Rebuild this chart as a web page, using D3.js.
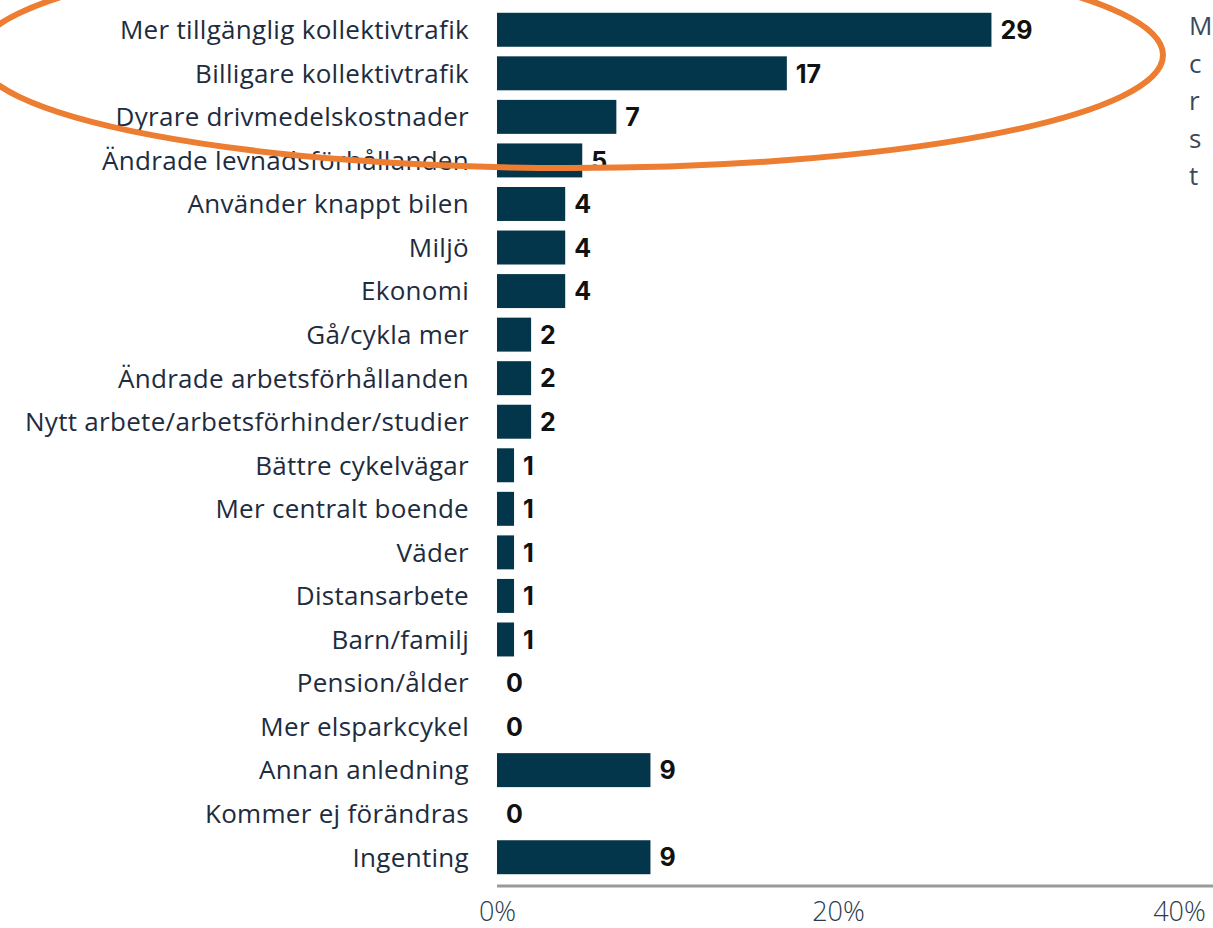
<!DOCTYPE html>
<html>
<head>
<meta charset="utf-8">
<script src="https://cdn.jsdelivr.net/npm/d3@7"></script>
<style>
  html, body { margin: 0; padding: 0; background: #ffffff; overflow: hidden; }
  svg { display: block; }
</style>
</head>
<body>
<svg id="chart" width="1213" height="928"></svg>
<script>
const categories = [
  "Mer tillgänglig kollektivtrafik",
  "Billigare kollektivtrafik",
  "Dyrare drivmedelskostnader",
  "Ändrade levnadsförhållanden",
  "Använder knappt bilen",
  "Miljö",
  "Ekonomi",
  "Gå/cykla mer",
  "Ändrade arbetsförhållanden",
  "Nytt arbete/arbetsförhinder/studier",
  "Bättre cykelvägar",
  "Mer centralt boende",
  "Väder",
  "Distansarbete",
  "Barn/familj",
  "Pension/ålder",
  "Mer elsparkcykel",
  "Annan anledning",
  "Kommer ej förändras",
  "Ingenting"
];
const values = [29, 17, 7, 5, 4, 4, 4, 2, 2, 2, 1, 1, 1, 1, 1, 0, 0, 9, 0, 9];
const tickValues = [0, 20, 40];
const tickLabels = ["0%", "20%", "40%"];
const sideTextLines = ["M", "c", "r", "s", "t"];

const svg = d3.select("#chart");
const W = 1213, H = 928;

const x = d3.scaleLinear().domain([0, 40]).range([497, 1179]);
const y = d3.scaleBand().domain(categories).range([8, 879]).paddingInner(0.22).paddingOuter(0.11);

const barColor = "#04364b";
const labelColor = "#1d2c3e";
const fontFam = "'Open Sans', 'Noto Sans', sans-serif";

// bars
svg.append("g").selectAll("rect").data(categories).join("rect")
  .attr("x", x(0))
  .attr("y", d => y(d))
  .attr("width", (d, i) => x(values[i]) - x(0))
  .attr("height", y.bandwidth())
  .attr("fill", barColor);

// category labels
svg.append("g").selectAll("text").data(categories).join("text")
  .attr("x", 469)
  .attr("y", d => y(d) + y.bandwidth() / 2)
  .attr("dy", "0.36em")
  .attr("text-anchor", "end")
  .attr("font-family", fontFam)
  .attr("font-size", 26)
  .attr("letter-spacing", "0.3")
  .attr("fill", labelColor)
  .text(d => d);

// value labels
svg.append("g").selectAll("text").data(categories).join("text")
  .attr("x", (d, i) => x(values[i]) + 9)
  .attr("y", d => y(d) + y.bandwidth() / 2)
  .attr("dy", "0.37em")
  .attr("font-family", "Inter, 'Liberation Sans', sans-serif")
  .attr("font-weight", 700)
  .attr("font-size", 25)
  .attr("fill", "#111111")
  .text((d, i) => values[i]);

// axis
const axisG = svg.append("g").attr("transform", "translate(0,886)");
const axis = d3.axisBottom(x).tickValues(tickValues).tickSize(0).tickPadding(16)
  .tickFormat((d, i) => tickLabels[i]);
axisG.call(axis);
axisG.select(".domain").remove();
axisG.append("line")
  .attr("x1", x(0)).attr("x2", W)
  .attr("y1", 0).attr("y2", 0)
  .attr("stroke", "#9a9a9a").attr("stroke-width", 3);
axisG.selectAll(".tick text")
  .attr("font-family", fontFam)
  .attr("font-size", 27)
  .attr("font-weight", 300)
  .attr("fill", "#2b3b4d");

// partially visible side text
svg.append("g").selectAll("text").data(sideTextLines).join("text")
  .attr("x", 1189)
  .attr("y", (d, i) => 35 + i * 37.5)
  .attr("font-family", fontFam)
  .attr("font-size", 26)
  .attr("fill", "#3a4a5c")
  .text(d => d);

// orange annotation ellipse
svg.append("ellipse")
  .attr("cx", 570).attr("cy", 55)
  .attr("rx", 593).attr("ry", 113)
  .attr("fill", "none")
  .attr("stroke", "#ed7d31")
  .attr("stroke-width", 6);
</script>
</body>
</html>
